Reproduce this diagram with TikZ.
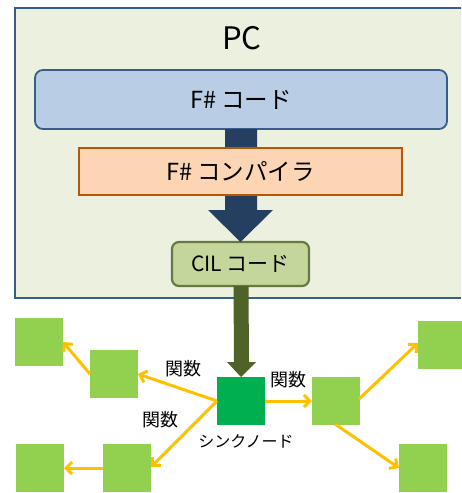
\documentclass[tikz,border=0pt]{standalone}
\usepackage{fontspec}
\setmainfont{Noto Sans CJK JP}
\usetikzlibrary{arrows.meta,calc}
\definecolor{pcfill}{HTML}{EBF1DE}
\definecolor{pcline}{HTML}{385D8A}
\definecolor{codefill}{HTML}{B9CDE5}
\definecolor{compfill}{HTML}{FCD5B5}
\definecolor{compline}{HTML}{B65708}
\definecolor{cilfill}{HTML}{C3D69B}
\definecolor{olive}{HTML}{4F6228}
\definecolor{navy}{HTML}{243F60}
\definecolor{sinkgreen}{HTML}{00B050}
\definecolor{leafgreen}{HTML}{92D050}
\definecolor{amber}{HTML}{FFC000}
\begin{document}
\begin{tikzpicture}[x=1pt,y=-1pt,
  box/.style={draw, line width=1.8pt, inner sep=0pt, outer sep=0pt, font=\fontsize{23.5}{26}\selectfont},
  leaf/.style={fill=leafgreen, minimum width=48pt, minimum height=48pt, inner sep=0pt, outer sep=0pt},
  fn/.style={draw=amber, line width=3pt, -{Straight Barb[length=6pt,width=12pt,line width=3pt]}},
  lbl/.style={font=\fontsize{18}{21}\selectfont}]
\useasboundingbox (0,0) rectangle (461,493);
% PC container
\fill[pcfill] (15,8) rectangle (461,298);
\draw[pcline, line width=1.8pt] (461,8) -- (15,8) -- (15,298) -- (461,298);
\node[font=\fontsize{31}{34}\selectfont] (pc) at (242,38) {PC};
% nodes
\node[box, draw=pcline, fill=codefill, rounded corners=8pt, minimum width=412pt, minimum height=59pt] (fcode) at (241,99.5) {F\# コード};
\node[box, draw=cilfill!20!olive, line width=2.2pt, fill=cilfill, rounded corners=7pt, minimum width=137pt, minimum height=44pt, font=\fontsize{21}{24}\selectfont] (cil) at (240.5,264) {CIL コード};
% navy block arrow (behind compiler)
\fill[navy] ($(fcode.south)+(-16,0)$) -- ($(fcode.south)+(16,0)$) -- (257,210) -- (273,210) -- (cil.north) -- (208,210) -- (225,210) -- cycle;
\node[box, draw=compline, fill=compfill, minimum width=323pt, minimum height=47pt] (comp) at (240.5,171.5) {F\# コンパイラ};
% sink
\node[fill=sinkgreen, minimum width=48pt, minimum height=48pt, inner sep=0pt, outer sep=0pt] (sink) at (241,401) {};
\node[font=\fontsize{16}{19}\selectfont] (sinklbl) at (246,441) {シンクノード};
% olive block arrow
\fill[olive] ($(cil.south)+(-7,0)$) -- ($(cil.south)+(8,0)$) -- (249,362) -- (256,362) -- (sink.north) -- (227,362) -- (234,362) -- cycle;
% leaves
\node[leaf] (l1) at (39,342) {};
\node[leaf] (l2) at (114,374) {};
\node[leaf] (l3) at (40,468) {};
\node[leaf] (l4) at (127,468) {};
\node[leaf] (r1) at (336,401) {};
\node[leaf] (r2) at (442,345) {};
\node[leaf] (r3) at (423,468) {};
% arrows
\coordinate (sw) at (217,401);
\draw[fn] (sw) -- (l2.east);
\draw[fn] (sw) -- (151,467);
\draw[fn] (l2.west) -- (63,342);
\draw[fn] (l4.west) -- (l3.east);
\draw[fn] (sink.east) -- (r1.west);
\draw[fn] (359,399) -- (418,343);
\draw[fn] (335,424) -- (399,468);
% labels
\node[lbl] (f1) at (183,369) {関数};
\node[lbl] (f2) at (160,420) {関数};
\node[lbl] (f3) at (288,380) {関数};
\end{tikzpicture}
\end{document}
